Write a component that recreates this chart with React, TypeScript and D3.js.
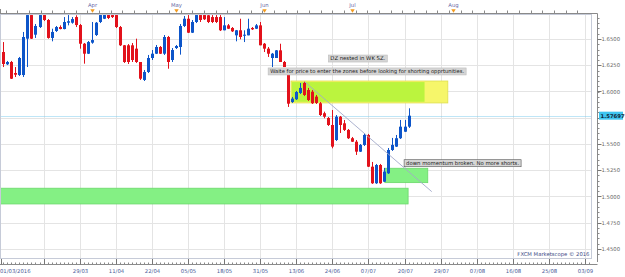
import React from "react";
import * as d3 from "d3";

// ---- Candle data (daily, 01/03/2016 .. 21/07/2016), index = trading day ----
const opens = [
  1.6503, 1.6376, 1.6259, 1.6281, 1.6176, 1.6157, 1.6157, 1.6503, 1.6728, 1.6541,
  1.6614, 1.6728, 1.6681, 1.6510, 1.6576, 1.6614, 1.6595, 1.6655, 1.6655, 1.6709,
  1.6633, 1.6455, 1.6360, 1.6465, 1.6538, 1.6662, 1.6693, 1.6728, 1.6728, 1.6728,
  1.6614, 1.6440, 1.6440, 1.6440, 1.6408, 1.6281, 1.6110, 1.6186, 1.6319, 1.6360,
  1.6424, 1.6360, 1.6519, 1.6300, 1.6414, 1.6424, 1.6624, 1.6693, 1.6560, 1.6662,
  1.6728, 1.6728, 1.6726, 1.6709, 1.6709, 1.6709, 1.6583, 1.6630, 1.6605, 1.6535,
  1.6583, 1.6531, 1.6535, 1.6605, 1.6598, 1.6630, 1.6455, 1.6408, 1.6319, 1.6319,
  1.6392, 1.6281, 1.6186, 1.5900, 1.5926, 1.5986, 1.6081, 1.6014, 1.5998, 1.5951,
  1.5888, 1.5793, 1.5748, 1.5681, 1.5538, 1.5760, 1.5697, 1.5634, 1.5555, 1.5522,
  1.5427, 1.5491, 1.5586, 1.5284, 1.5126, 1.5300, 1.5141, 1.5221, 1.5443, 1.5475,
  1.5555, 1.5617, 1.5665,
];
const highs = [
  1.6510, 1.6471, 1.6291, 1.6291, 1.6233, 1.6329, 1.6567, 1.6776, 1.6776, 1.6643,
  1.6776, 1.6776, 1.6690, 1.6598, 1.6624, 1.6630, 1.6709, 1.6728, 1.6709, 1.6726,
  1.6643, 1.6462, 1.6481, 1.6662, 1.6662, 1.6776, 1.6776, 1.6776, 1.6776, 1.6776,
  1.6624, 1.6443, 1.6452, 1.6462, 1.6503, 1.6281, 1.6205, 1.6348, 1.6395, 1.6443,
  1.6433, 1.6538, 1.6529, 1.6414, 1.6443, 1.6643, 1.6719, 1.6728, 1.6681, 1.6776,
  1.6776, 1.6776, 1.6776, 1.6728, 1.6728, 1.6728, 1.6709, 1.6643, 1.6614, 1.6586,
  1.6693, 1.6583, 1.6693, 1.6614, 1.6643, 1.6662, 1.6462, 1.6424, 1.6367, 1.6395,
  1.6455, 1.6291, 1.6224, 1.5948, 1.6005, 1.6081, 1.6093, 1.6034, 1.6014, 1.5967,
  1.5900, 1.5808, 1.5757, 1.5824, 1.5776, 1.5767, 1.5729, 1.5643, 1.5567, 1.5538,
  1.5500, 1.5602, 1.5596, 1.5329, 1.5310, 1.5310, 1.5272, 1.5462, 1.5558, 1.5586,
  1.5729, 1.5729, 1.5840,
];
const lows = [
  1.6262, 1.6233, 1.6252, 1.6119, 1.6138, 1.6148, 1.6138, 1.6233, 1.6500, 1.6510,
  1.6605, 1.6671, 1.6503, 1.6478, 1.6567, 1.6592, 1.6592, 1.6630, 1.6646, 1.6614,
  1.6408, 1.6265, 1.6357, 1.6455, 1.6529, 1.6652, 1.6690, 1.6690, 1.6700, 1.6605,
  1.6433, 1.6272, 1.6262, 1.6281, 1.6272, 1.6110, 1.6100, 1.6176, 1.6300, 1.6357,
  1.6357, 1.6348, 1.6217, 1.6281, 1.6405, 1.6351, 1.6614, 1.6557, 1.6557, 1.6652,
  1.6662, 1.6681, 1.6652, 1.6652, 1.6652, 1.6576, 1.6583, 1.6595, 1.6567, 1.6478,
  1.6497, 1.6471, 1.6535, 1.6586, 1.6595, 1.6440, 1.6376, 1.6329, 1.6233, 1.6319,
  1.6281, 1.6233, 1.5853, 1.5891, 1.5919, 1.5976, 1.5957, 1.5910, 1.5881, 1.5881,
  1.5767, 1.5745, 1.5672, 1.5459, 1.5529, 1.5605, 1.5624, 1.5548, 1.5519, 1.5396,
  1.5424, 1.5481, 1.5281, 1.5120, 1.5120, 1.5120, 1.5139, 1.5215, 1.5434, 1.5472,
  1.5548, 1.5615, 1.5653,
];
const closes = [
  1.6265, 1.6262, 1.6281, 1.6122, 1.6160, 1.6319, 1.6519, 1.6728, 1.6503, 1.6624,
  1.6728, 1.6681, 1.6510, 1.6567, 1.6614, 1.6595, 1.6662, 1.6669, 1.6690, 1.6633,
  1.6455, 1.6360, 1.6471, 1.6490, 1.6655, 1.6728, 1.6728, 1.6700, 1.6709, 1.6614,
  1.6440, 1.6281, 1.6281, 1.6300, 1.6281, 1.6122, 1.6186, 1.6319, 1.6360, 1.6424,
  1.6360, 1.6519, 1.6281, 1.6395, 1.6433, 1.6624, 1.6693, 1.6560, 1.6662, 1.6728,
  1.6681, 1.6688, 1.6662, 1.6662, 1.6662, 1.6583, 1.6630, 1.6598, 1.6573, 1.6583,
  1.6519, 1.6541, 1.6598, 1.6592, 1.6630, 1.6440, 1.6408, 1.6360, 1.6360, 1.6392,
  1.6281, 1.6233, 1.5884, 1.5932, 1.5995, 1.6034, 1.5967, 1.5919, 1.5888, 1.5891,
  1.5776, 1.5760, 1.5681, 1.5475, 1.5760, 1.5681, 1.5634, 1.5555, 1.5522, 1.5427,
  1.5491, 1.5586, 1.5284, 1.5126, 1.5300, 1.5126, 1.5237, 1.5443, 1.5491, 1.5555,
  1.5665, 1.5665, 1.57697,
];
const lastPrice = 1.57697;

// ---- Axis data ----
const priceTicks = [1.45, 1.475, 1.5, 1.525, 1.55, 1.575, 1.6, 1.625, 1.65];
const dateTickIdx = [11, 20, 29, 38, 47, 56, 65, 74, 83, 92, 101, 110, 119, 128, 137, 146];
const dateTickLabels = ["", "29/03", "11/04", "22/04", "05/05", "18/05", "31/05", "13/06", "24/06", "07/07", "20/07", "29/07", "07/08", "16/08", "25/08", "03/09"];
const firstDateLabel = "01/03/2016";
const monthIdx = [23, 44, 66, 88, 113];
const monthLabels = ["Apr", "May", "Jun", "Jul", "Aug"];

// ---- Zones (index range, price range) ----
const zoneFrom = [72.7, 72.9, 96.1, -1];
const zoneTo = [111.8, 106.0, 106.8, 101.9];
const zoneHigh = [1.6100, 1.6090, 1.5269, 1.5079];
const zoneLow = [1.5891, 1.5902, 1.5132, 1.4929];
const zoneFill = ["#f6f66a", "#bbf43e", "#84f084", "#84f084"];
const zoneStroke = ["#dede50", "none", "#6ad86a", "#6ad86a"];

// ---- Trend line ----
const trendIdx = [76.1, 107.8];
const trendPrice = [1.6093, 1.5046];

// ---- Annotations ----
const noteText = [
  "DZ nested in WK SZ.",
  "Waite for price to enter the zones before looking for shorting opprtunities.",
  "down momentum broken. No more shorts.",
];
const noteIdx = [82.0, 67.0, 100.9];
const notePrice = [1.6314, 1.6191, 1.5317];
const noteWidth = [59, 198, 117];

const W = 625;
const H = 277;
const plotL = 0.5;
const plotR = 591.5;
const plotT = 14.5;
const plotB = 258.5;
const axisX = 597.5;

const RED = "#e2111b";
const BLUE = "#0d55c9";
const FONT = "DejaVu Sans, Verdana, sans-serif";
const FS = 5.3;

export default function App() {
  const x = d3.scaleLinear().domain([0, 101]).range([-0.6, 404.5]);
  const y = d3.scaleLinear().domain([1.45, 1.65]).range([249, 39]);

  const minorPrice = d3.range(1.44, 1.68, 0.005);
  const bottomSmall = d3.range(0, 148, 1);
  const topTicks = d3.range(-26, 24).map((k) => 77.19 + 2.909 * k);
  const lastY = y(lastPrice);

  return (
    <div style={{ position: "absolute", left: 0, top: 0, width: W, height: H, background: "#fff" }}>
      <svg width={W} height={H} style={{ display: "block" }} fontFamily={FONT}>
        <defs>
          <clipPath id="plotclip">
            <rect x={plotL} y={plotT} width={plotR - plotL} height={plotB - plotT} />
          </clipPath>
        </defs>
        <rect x={0} y={0} width={W} height={H} fill="#fff" />

        {/* grid */}
        {priceTicks.map((p) => (
          <line key={"hg" + p} x1={plotL} x2={plotR} y1={Math.round(y(p)) + 0.5} y2={Math.round(y(p)) + 0.5} stroke="#e4e4e4" />
        ))}
        {dateTickIdx.map((d) => (
          <line key={"vg" + d} x1={Math.round(x(d)) + 0.5} x2={Math.round(x(d)) + 0.5} y1={plotT} y2={plotB} stroke="#e4e4e4" />
        ))}

        <g clipPath="url(#plotclip)">
          {/* zones */}
          {zoneFrom.map((f, k) => (
            <rect
              key={"z" + k}
              x={x(f)}
              y={y(zoneHigh[k])}
              width={x(zoneTo[k]) - x(f)}
              height={y(zoneLow[k]) - y(zoneHigh[k])}
              fill={zoneFill[k]}
              stroke={zoneStroke[k]}
              strokeWidth={0.8}
            />
          ))}

          {/* current price dotted line */}
          <line x1={plotL} x2={plotR} y1={Math.round(lastY) + 0.5} y2={Math.round(lastY) + 0.5} stroke="#7fcdef" strokeDasharray="1,1" />

          {/* candles */}
          {opens.map((o, i) => {
            const c = closes[i];
            const cx = Math.round(x(i));
            const col = c >= o ? BLUE : RED;
            const top = y(Math.max(o, c));
            const bot = y(Math.min(o, c));
            return (
              <g key={"c" + i}>
                <rect x={cx} y={y(highs[i])} width={1} height={y(lows[i]) - y(highs[i])} fill={col} />
                <rect x={cx - 1} y={top} width={3} height={Math.max(1, bot - top)} fill={col} />
              </g>
            );
          })}

          {/* trend line */}
          <line
            x1={x(trendIdx[0])}
            y1={y(trendPrice[0])}
            x2={x(trendIdx[1])}
            y2={y(trendPrice[1])}
            stroke="#a3a9c9"
            strokeWidth={0.9}
          />

          {/* notes */}
          {noteText.map((t, k) => {
            const nx = x(noteIdx[k]);
            const ny = y(notePrice[k]);
            return (
              <g key={"n" + k}>
                <rect
                  x={nx}
                  y={ny - 3.5}
                  width={noteWidth[k]}
                  height={7}
                  fill="#d5d5d5"
                  stroke={k === 2 ? "#555" : "#bdbdbd"}
                  strokeWidth={0.6}
                />
                <text
                  x={nx + 2}
                  y={ny + 1.9}
                  fontSize={FS}
                  fill="#222"
                  textLength={noteWidth[k] - 4}
                  lengthAdjust="spacingAndGlyphs"
                >
                  {t}
                </text>
              </g>
            );
          })}

          <text x={plotR - 2} y={256} fontSize={FS} fill="#3c4a86" textAnchor="end">
            FXCM Marketscope © 2016
          </text>
        </g>

        {/* plot border */}
        <rect x={plotL} y={plotT} width={plotR - plotL} height={plotB - plotT} fill="none" stroke="#c6cbd8" />

        {/* top axis */}
        <line x1={0} x2={axisX} y1={13.5} y2={13.5} stroke="#8a8a8a" />
        {topTicks.filter((t) => x(t) > 0 && x(t) < 590).map((t) => (
          <line key={"tt" + t} x1={Math.round(x(t)) + 0.5} x2={Math.round(x(t)) + 0.5} y1={10.5} y2={13.5} stroke="#8a8a8a" />
        ))}
        <line x1={0.5} x2={0.5} y1={9} y2={14} stroke="#8a8a8a" />
        {monthIdx.map((m, k) => {
          const mx = Math.round(x(m)) + 0.5;
          return (
            <g key={"m" + k}>
              <text x={mx} y={7} fontSize={FS} fill="#6464a4" textAnchor="middle">
                {monthLabels[k]}
              </text>
              <path d={`M${mx - 2.2},9.2 L${mx + 2.2},9.2 L${mx},12.8 Z`} fill="#f29a1e" />
            </g>
          );
        })}

        {/* right axis */}
        <line x1={axisX} x2={axisX} y1={13.5} y2={262} stroke="#8a8a8a" />
        {minorPrice.filter((p) => y(p) > 15 && y(p) < 258).map((p) => (
          <line key={"mp" + p} x1={axisX} x2={axisX + 2} y1={Math.round(y(p)) + 0.5} y2={Math.round(y(p)) + 0.5} stroke="#8a8a8a" />
        ))}
        {priceTicks.map((p) => (
          <g key={"pt" + p}>
            <line x1={axisX} x2={axisX + 4} y1={Math.round(y(p)) + 0.5} y2={Math.round(y(p)) + 0.5} stroke="#777" />
            {Math.abs(y(p) - lastY) > 7 && (
              <text x={axisX + 4} y={y(p) + 2} fontSize={FS} fill="#666">
                {p.toFixed(4)}
              </text>
            )}
          </g>
        ))}
        {/* last price label */}
        <rect x={axisX + 1.5} y={lastY - 4} width={24} height={8} fill="#3ec5f0" />
        <text x={axisX + 3} y={lastY + 2} fontSize={FS} fill="#123" fontWeight="bold">
          {lastPrice.toFixed(5)}
        </text>

        {/* bottom axis */}
        <line x1={0} x2={axisX} y1={264.5} y2={264.5} stroke="#8a8a8a" />
        {bottomSmall.filter((b) => x(b) > 0 && x(b) < 592).map((b) => (
          <line key={"bs" + b} x1={Math.round(x(b)) + 0.5} x2={Math.round(x(b)) + 0.5} y1={262.5} y2={264.5} stroke="#8a8a8a" />
        ))}
        <line x1={1.5} x2={1.5} y1={259} y2={264.5} stroke="#777" />
        <text x={0} y={273} fontSize={FS} fill="#4a5a98">
          {firstDateLabel}
        </text>
        {dateTickIdx.map((d, k) => (
          <g key={"dt" + d}>
            <line x1={Math.round(x(d)) + 0.5} x2={Math.round(x(d)) + 0.5} y1={259} y2={264.5} stroke="#777" />
            {dateTickLabels[k] && (
              <text x={Math.round(x(d)) + 0.5} y={273} fontSize={FS} fill="#4a5a98" textAnchor="middle">
                {dateTickLabels[k]}
              </text>
            )}
          </g>
        ))}
      </svg>
    </div>
  );
}
